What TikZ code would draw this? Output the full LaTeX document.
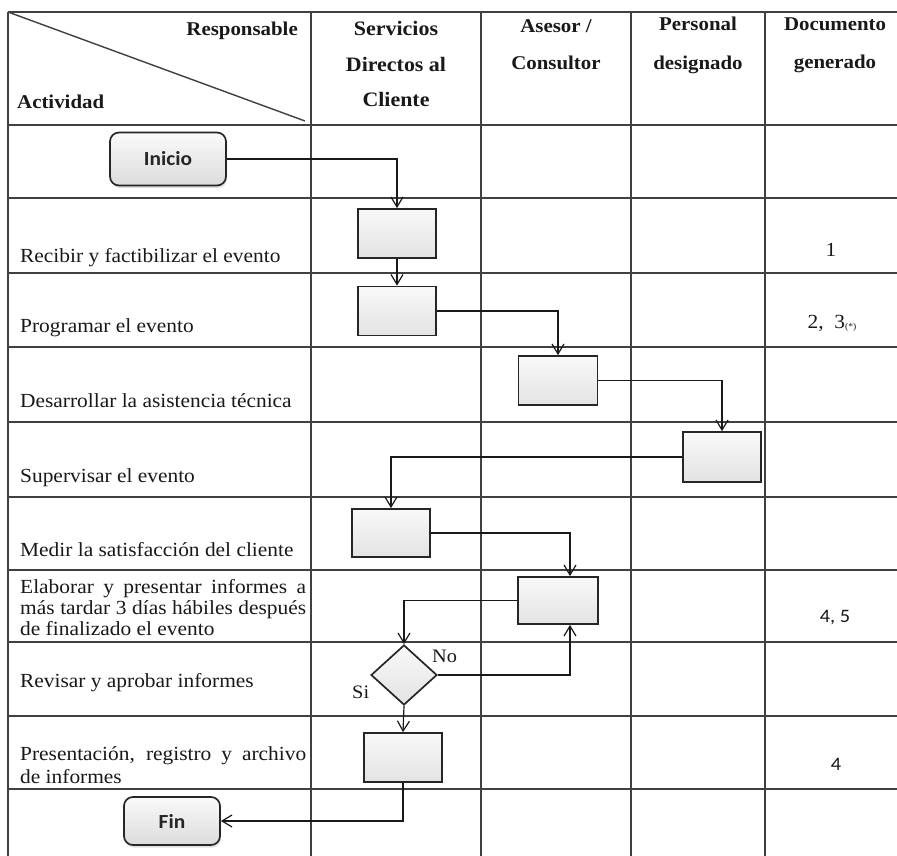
\documentclass[tikz,border=0pt]{standalone}
\usepackage{fontspec}
\setmainfont{Liberation Serif}[FakeStretch=1.07]
\newfontfamily\calib{Carlito}[FakeStretch=1.07]
\usetikzlibrary{arrows.meta,shapes.geometric,shadows}

\begin{document}
\begin{tikzpicture}[x=1pt,y=-1pt,
  grid/.style={draw=black!75, line width=1.4pt},
  hdr/.style={inner sep=0pt, text=black!90, font=\bfseries\fontsize{19.5}{21}\selectfont},
  hdrbig/.style={hdr, font=\bfseries\fontsize{20.5}{22}\selectfont},
  lbl/.style={inner sep=0pt, anchor=base west, text=black!90, font=\fontsize{20}{21}\selectfont},
  num/.style={inner sep=0pt, anchor=base, text=black!90, font=\fontsize{20}{21}\selectfont},
  snum/.style={inner sep=0pt, anchor=base, text=black!90, font=\calib\fontsize{19}{21}\selectfont},
  proc/.style={draw=black!85, line width=1.7pt, top color=gray!5, bottom color=gray!22,
    minimum width=78pt, minimum height=49pt, inner sep=0pt},
  term/.style={draw=black!85, line width=1.7pt, rounded corners=9pt, top color=gray!4,
    bottom color=gray!28, inner sep=0pt, text=black!85,
    font=\calib\bfseries\fontsize{20}{22}\selectfont,
    drop shadow={shadow xshift=1pt, shadow yshift=-2.5pt, opacity=.25}},
  dec/.style={shape=diamond, draw=black!85, line width=1.7pt, top color=gray!5,
    bottom color=gray!22, minimum width=66pt, minimum height=60pt, inner sep=0pt},
  arr/.style={draw=black!90, line width=1.2pt, -{Straight Barb[length=10pt,width=12pt]}},
  tag/.style={inner sep=0pt, anchor=base west, text=black!90, font=\fontsize{19}{20}\selectfont}
]
\useasboundingbox (0,0) rectangle (897,856);
\fill[white] (0,0) rectangle (897,856);
\clip (0,0) rectangle (897,856);

% table grid
\foreach \gx in {8,311,481,631,765,905}
  \draw[grid] (\gx,12) -- (\gx,880);
\foreach \gy in {12,125,198,273,347,422,497,570,642,716,789,880}
  \draw[grid] (8,\gy) -- (905,\gy);
\draw[grid] (8,12) -- (305,121);

% header
\node[hdr, anchor=base east] (resp) at (298,36) {Responsable};
\node[hdr, anchor=base west] (act) at (17,109) {Actividad};
\node[hdrbig, anchor=base] (h2a) at (396,36) {Servicios};
\node[hdrbig, anchor=base] (h2b) at (396,72) {Directos al};
\node[hdrbig, anchor=base] (h2c) at (396,107) {Cliente};
\node[hdr, anchor=base] (h3a) at (556,33) {Asesor /};
\node[hdr, anchor=base] (h3b) at (556,70) {Consultor};
\node[hdr, anchor=base] (h4a) at (698,31) {Personal};
\node[hdr, anchor=base] (h4b) at (698,70) {designado};
\node[hdr, anchor=base] (h5a) at (835,31) {Documento};
\node[hdr, anchor=base] (h5b) at (835,69) {generado};

% activity labels
\node[lbl] (l1) at (20,262) {Recibir y factibilizar el evento};
\node[lbl] (l2) at (20,332) {Programar el evento};
\node[lbl] (l3) at (20,407) {Desarrollar la asistencia técnica};
\node[lbl] (l4) at (20,482) {Supervisar el evento};
\node[lbl] (l5) at (20,556) {Medir la satisfacción del cliente};
\node[lbl] (l6a) at (20,593) {\makebox[286pt][s]{Elaborar y presentar informes a}};
\node[lbl] (l6b) at (20,614) {\makebox[286pt][s]{más tardar 3 días hábiles después}};
\node[lbl] (l6c) at (20,635) {de finalizado el evento};
\node[lbl] (l7) at (20,687) {Revisar y aprobar informes};
\node[lbl] (l8a) at (20,760) {\makebox[286pt][s]{Presentación, registro y archivo}};
\node[lbl] (l8b) at (20,783) {de informes};

% generated documents
\node[num] (d1) at (831,256) {1};
\node[num] (d2) at (832,328) {2,\ \ 3\raisebox{-1pt}{\fontsize{9}{9}\selectfont(*)}};
\node[snum] (d3) at (835,622) {4, 5};
\node[snum] (d4) at (836,770) {4};

% flow
\node[term] (inicio) at (168,159) [minimum width=116pt, minimum height=53pt] {Inicio};
\node[proc] (b1) at (397,233.5) {};
\node[proc] (b2) at (397,311) {};
\node[proc] (b3) at (558,380.5) [minimum width=79pt] {};
\node[proc] (b4) at (722,457) [minimum height=50pt] {};
\node[proc] (b5) at (391,533) [minimum height=48pt] {};
\node[proc] (b6) at (558,600.5) [minimum width=80pt, minimum height=47pt] {};
\node[dec] (dia) at (404,675) {};
\node[proc] (b7) at (403,757.5) {};
\node[term] (fin) at (172,821) [minimum width=96pt, minimum height=48pt] {Fin};

\draw[arr] (inicio.east) -| (b1.north);
\draw[arr] (b1.south) -- (b2.north);
\draw[arr] (b2.east) -| (b3.north);
\draw[arr] (b3.east) -| (b4.north);
\draw[arr] (b4.west) -| (b5.north);
\draw[arr] (b5.east) -| ([xshift=12pt]b6.north);
\draw[arr] (b6.west) -| (dia.north);
\draw[arr] (dia.east) -| ([xshift=12pt]b6.south);
\draw[arr] (dia.south) -- (b7.north);
\draw[arr] (b7.south) |- (fin.east);

\node[tag] (no) at (432,662) {No};
\node[tag] (si) at (352,698) {Si};
\end{tikzpicture}
\end{document}
